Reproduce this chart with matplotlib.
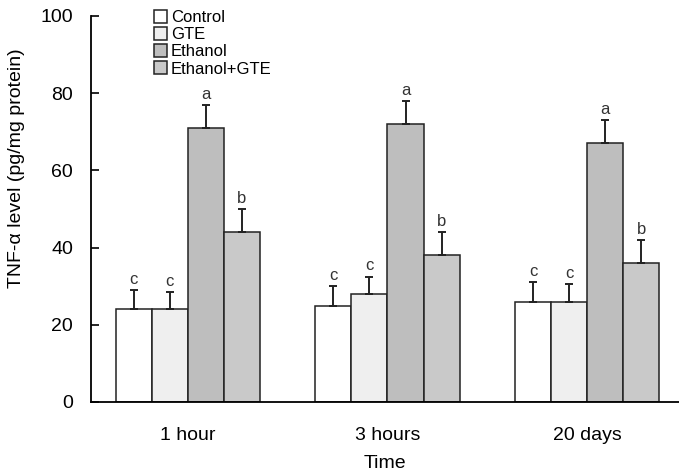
import matplotlib.pyplot as plt
import numpy as np

plt.rcParams['font.family'] = ['Liberation Sans', 'DejaVu Sans']

times = ['1 hour', '3 hours', '20 days']
groups = ['Control', 'GTE', 'Ethanol', 'Ethanol+GTE']
control = [24, 25, 26]
gte = [24, 28, 26]
ethanol = [71, 72, 67]
eth_gte = [44, 38, 36]
control_err = [5, 5, 5]
gte_err = [4.5, 4.5, 4.5]
ethanol_err = [6, 6, 6]
eth_gte_err = [6, 6, 6]
letters = [['c', 'c', 'c'], ['c', 'c', 'c'], ['a', 'a', 'a'], ['b', 'b', 'b']]

colors = ['#ffffff', '#efefef', '#bebebe', '#c9c9c9']

fig = plt.figure(figsize=(6.79, 4.74), dpi=100)
ax = fig.add_axes([91/679, 1-402/474, 1-91/679, (402-16)/474])

x = np.arange(len(times))
w = 0.181
vals = [control, gte, ethanol, eth_gte]
errs = [control_err, gte_err, ethanol_err, eth_gte_err]
for i in range(4):
    pos = x + (i - 1.5) * w
    ax.bar(pos, vals[i], w, color=colors[i], edgecolor='#222222', linewidth=1.1, label=groups[i])
    ax.errorbar(pos, vals[i], yerr=[np.zeros(3), errs[i]], fmt='none', ecolor='#222222',
                elinewidth=1.4, capsize=3, capthick=1.4)
    for j in range(3):
        ax.text(pos[j], vals[i][j] + errs[i][j] + 1.6, letters[i][j], ha='center', va='baseline',
                fontsize=12, color='#333333')

ax.set_xlim(-0.485, 2.46)
ax.set_ylim(0, 100)
ax.set_yticks([0, 20, 40, 60, 80, 100])
ax.set_xticks(x)
ax.set_xticklabels(times, fontsize=14)
ax.tick_params(axis='y', labelsize=14, length=6, width=1.2, direction='in', pad=13)
ax.tick_params(axis='x', length=0, pad=18)
ax.spines['top'].set_visible(False)
ax.spines['right'].set_visible(False)
ax.spines['left'].set_linewidth(1.3)
ax.spines['bottom'].set_linewidth(1.3)
ax.set_ylabel('TNF-α level (pg/mg protein)', fontsize=14)
ax.yaxis.set_label_coords(-66/588, (402-168)/386)
ax.set_xlabel('Time', fontsize=14, labelpad=8)

ax.legend(loc='upper left', bbox_to_anchor=(144/679, 1.0), bbox_transform=fig.transFigure,
          frameon=False, fontsize=12, handlelength=0.8, handleheight=0.8,
          handletextpad=0.2, labelspacing=0.12, borderaxespad=0.2)

fig.savefig('out.png', dpi=100)
